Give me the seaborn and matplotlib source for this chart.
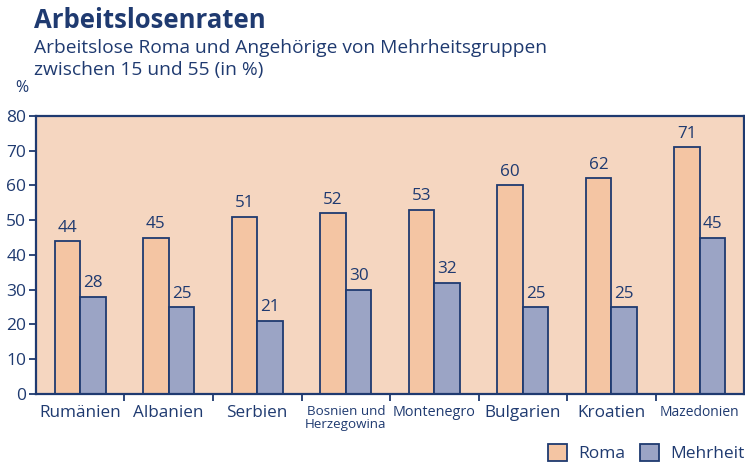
import pandas as pd
import matplotlib.pyplot as plt
import seaborn as sns

# chart data
countries = ['Rumänien', 'Albanien', 'Serbien', 'Bosnien und\nHerzegowina', 'Montenegro',
             'Bulgarien', 'Kroatien', 'Mazedonien']
roma = [44, 45, 51, 52, 53, 60, 62, 71]
mehrheit = [28, 25, 21, 30, 32, 25, 25, 45]
groups = ['Roma', 'Mehrheit']
yticks = [0, 10, 20, 30, 40, 50, 60, 70, 80]

navy = '#1f3a70'
bg = '#f5d6c0'
colors = {'Roma': '#f4c5a3', 'Mehrheit': '#9ba4c5'}

df = pd.DataFrame({
    'Land': countries * 2,
    'Gruppe': ['Roma'] * len(countries) + ['Mehrheit'] * len(countries),
    'Wert': roma + mehrheit,
})

sns.set_style('white')
plt.rcParams['font.family'] = ['Open Sans', 'DejaVu Sans']

fig = plt.figure(figsize=(7.45, 4.65), dpi=100)
ax = fig.add_axes([0.0483, 0.1527, 0.9504, 0.598])
ax.set_facecolor(bg)

sns.barplot(data=df, x='Land', y='Wert', hue='Gruppe', hue_order=groups, palette=colors,
            width=0.58, edgecolor=navy, linewidth=1.3, saturation=1, ax=ax, legend=False)

for cont in ax.containers:
    ax.bar_label(cont, padding=4, fontsize=12.3, color=navy)

ax.set_xlim(-0.5, len(countries) - 0.5)
ax.set_ylim(0, 80)
ax.set_yticks(yticks)
ax.tick_params(axis='y', direction='out', length=5, width=1.3, color=navy,
               labelsize=12.5, labelcolor=navy, left=True, pad=2)
ax.set_xticks(range(len(countries)))
ax.set_xticklabels(countries)
ax.tick_params(axis='x', length=0, labelsize=12.3, labelcolor=navy, pad=8)
ax.set_xticks([i + 0.5 for i in range(len(countries) - 1)], minor=True)
ax.tick_params(axis='x', which='minor', direction='out', length=5, width=1.3, color=navy,
               bottom=True)
small = {'Bosnien und\nHerzegowina': 9.6, 'Montenegro': 10.4, 'Mazedonien': 10.0}
for lbl in ax.get_xticklabels():
    lbl.set_verticalalignment('top')
    if lbl.get_text() in small:
        lbl.set_fontsize(small[lbl.get_text()])
        lbl.set_linespacing(0.95)
ax.set_xlabel('')
ax.set_ylabel('')

for side in ['left', 'right', 'top', 'bottom']:
    ax.spines[side].set_visible(True)
    ax.spines[side].set_color(navy)
    ax.spines[side].set_linewidth(1.6)

fig.text(0.046, 0.94, 'Arbeitslosenraten', fontsize=18.5, fontweight='bold', color=navy, va='baseline')
fig.text(0.046, 0.886, 'Arbeitslose Roma und Angehörige von Mehrheitsgruppen', fontsize=13.8,
         color=navy, va='baseline')
fig.text(0.046, 0.838, 'zwischen 15 und 55 (in %)', fontsize=13.8, color=navy, va='baseline')
fig.text(0.020, 0.803, '%', fontsize=11.5, color=navy, va='baseline')

handles = [plt.Rectangle((0, 0), 1, 1, facecolor=colors[g], edgecolor=navy, linewidth=1.3)
           for g in groups]
fig.legend(handles, groups, loc='lower right', bbox_to_anchor=(1.02, -0.028), ncol=2,
           frameon=False, fontsize=12.5, labelcolor=navy, handlelength=1.1, handleheight=1.1,
           columnspacing=0.9, handletextpad=0.6)

fig.savefig('out.png', dpi=100)
